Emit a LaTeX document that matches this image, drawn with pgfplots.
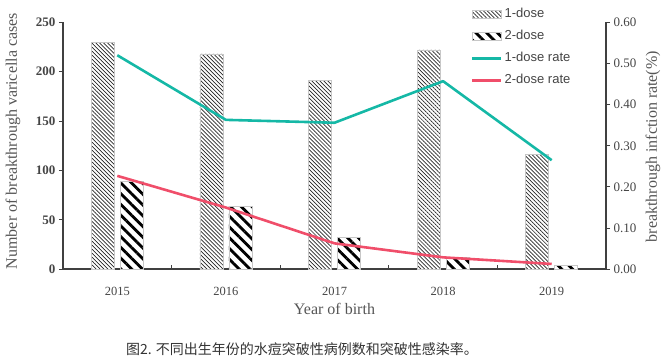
\documentclass[border=0pt]{standalone}
\usepackage{fontspec}
\setmainfont{Liberation Serif}
\newfontfamily\legendfont{Liberation Sans}
\newfontfamily\cjk{Noto Sans CJK SC}
\usepackage{pgfplots}
\pgfplotsset{compat=1.18}
\usetikzlibrary{patterns.meta}
\definecolor{tealA}{HTML}{15B8A6}
\definecolor{pinkA}{HTML}{F04E6A}
\definecolor{axgray}{HTML}{404040}
\definecolor{txtgray}{HTML}{555555}
\definecolor{tickgray}{HTML}{444444}
\tikzset{
  onepat/.style={fill=white, draw=black!22, line width=0.6pt,
    postaction={pattern={Lines[angle=-45,distance=2.8pt,line width=0.7pt]}, pattern color=black!85}},
  twopat/.style={fill=white, draw=black!22, line width=0.6pt,
    postaction={pattern={Lines[angle=-45,distance=7.6pt,line width=2.8pt]}, pattern color=black}},
}
\pgfplotsset{
  barleg/.style={legend image code/.code={\draw[##1] (0pt,-4pt) rectangle (29pt,4pt);}},
  lineleg/.style={legend image code/.code={\draw[##1] (0pt,0pt) -- (29pt,0pt);}},
}
\begin{document}
\begin{tikzpicture}
\useasboundingbox (-63pt,-93.7pt) rectangle (608pt,269.3pt);
\begin{axis}[
  scale only axis, width=543pt, height=247pt,
  xmin=-0.5, xmax=4.5, ymin=0, ymax=250,
  axis x line*=bottom, axis y line*=left,
  axis line style={-, draw=axgray, line width=1.6pt},
  ybar=6pt, bar width=23pt,
  xtick={0,1,2,3,4}, xticklabels={2015,2016,2017,2018,2019},
  major x tick style={draw=none},
  minor xtick={0.5,1.5,2.5,3.5},
  minor tick length=4pt,
  minor x tick style={draw=axgray, line width=1pt, yshift=4pt},
  ytick={0,50,100,150,200,250},
  tick align=outside,
  major tick length=4pt,
  y tick style={draw=axgray, line width=1pt},
  /pgf/number format/assume math mode=true,
  x tick label style={font=\fontsize{12.5}{12.5}\selectfont, text=tickgray, yshift=-10pt},
  y tick label style={font=\bfseries\fontsize{13}{13}\selectfont, text=tickgray},
  xlabel={Year of birth},
  xlabel style={at={(axis description cs:0.5,0)}, anchor=center, yshift=-40pt,
    font=\fontsize{16}{16}\selectfont, text=txtgray},
  ylabel={Number of breakthrough varicella cases},
  ylabel style={at={(axis description cs:0,0.519)}, anchor=center, rotate=0, yshift=50pt,
    font=\fontsize{16}{16}\selectfont, text=txtgray},
]
\addplot[onepat] coordinates {(0,230) (1,218) (2,191) (3,222) (4,116)};
\addplot[twopat] coordinates {(0,89) (1,64) (2,32) (3,12) (4,4)};
\end{axis}
\begin{axis}[
  scale only axis, width=543pt, height=247pt,
  xmin=-0.5, xmax=4.5, ymin=0, ymax=0.6,
  axis x line=none, axis y line*=right,
  axis line style={-, draw=axgray, line width=1.6pt},
  ytick={0,0.1,0.2,0.3,0.4,0.5,0.6},
  tick align=outside, major tick length=4pt,
  y tick style={draw=axgray, line width=1pt},
  /pgf/number format/assume math mode=true,
  yticklabel style={/pgf/number format/.cd, fixed, fixed zerofill, precision=2, /tikz/.cd,
    font=\fontsize{13}{13}\selectfont, text=tickgray},
  ylabel={breakthrough infction rate(\%)},
  ylabel style={at={(axis description cs:1,0.497)}, anchor=center, yshift=-47pt,
    font=\fontsize{16}{16}\selectfont, text=txtgray},
  legend style={at={(axis description cs:0.751,1.066)}, anchor=north west,
    draw=none, fill=none, inner sep=0pt, row sep=6pt,
    font=\legendfont\fontsize{13}{13}\selectfont, text=tickgray,
    nodes={text height=9pt, text depth=3pt, inner sep=2pt}},
  legend cell align=left,
]
\addlegendimage{onepat, barleg}
\addlegendentry{1-dose}
\addlegendimage{twopat, barleg}
\addlegendentry{2-dose}
\addplot[tealA, line width=2.6pt, line join=round, no marks, lineleg]
  coordinates {(0,0.520) (1,0.363) (2,0.356) (3,0.457) (4,0.265)};
\addlegendentry{1-dose rate}
\addplot[pinkA, line width=2.6pt, line join=round, no marks, lineleg]
  coordinates {(0,0.227) (1,0.150) (2,0.063) (3,0.029) (4,0.013)};
\addlegendentry{2-dose rate}
\end{axis}
\node[font=\cjk\fontsize{14}{14}\selectfont, text=black!80] at (239pt,-79.7pt)
  {图2. 不同出生年份的水痘突破性病例数和突破性感染率。};
\end{tikzpicture}
\end{document}
